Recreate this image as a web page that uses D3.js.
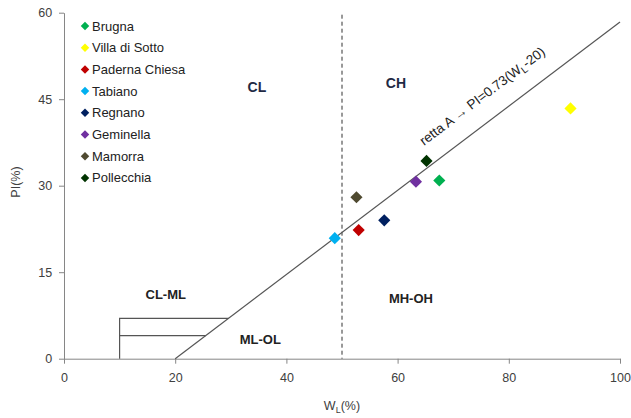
<!DOCTYPE html>
<html><head><meta charset="utf-8">
<script src="https://cdn.jsdelivr.net/npm/d3@7"></script>
<style>body{margin:0;background:#fff}svg{display:block;font-family:"Liberation Sans",Arial,sans-serif}</style>
</head><body><svg id="c" width="631" height="418"></svg>
<script>
const sites = ["Brugna","Villa di Sotto","Paderna Chiesa","Tabiano","Regnano","Geminella","Mamorra","Pollecchia"];
const wl = [67.5, 91.1, 53.0, 48.7, 57.6, 63.3, 52.6, 65.2];
const pi = [30.9, 43.4, 22.3, 20.9, 24.0, 30.7, 28.0, 34.3];
const colors = ["#00B050","#FFFF00","#C00000","#00B0F0","#002060","#7030A0","#4F4A30","#003300"];
const xTicks = [0,20,40,60,80,100];
const yTicks = [0,15,30,45,60];
const lineA = [[20,0],[100,58.4]];
const clmlBox = [[[10,0],[10,7],[29.6,7]],[[10,4],[25.5,4]]];
const zones = [["CL",34.7,46.3],["CH",59.7,46.9],["CL-ML",18.3,10.3],["ML-OL",35.3,2.5],["MH-OH",62.4,9.7]];

const svg = d3.select("#c");
const x = d3.scaleLinear().domain([0,100]).range([64,620]);
const y = d3.scaleLinear().domain([0,60]).range([358.7,12.7]);
const axisColor = "#868686";

const gx = svg.append("g").attr("transform",`translate(0,${y(0)})`).call(d3.axisBottom(x).tickValues(xTicks).tickSize(5).tickSizeOuter(0));
const gy = svg.append("g").attr("transform",`translate(${x(0)},0)`).call(d3.axisLeft(y).tickValues(yTicks).tickSize(5).tickSizeOuter(0));
[gx,gy].forEach(g=>{g.select(".domain").attr("stroke",axisColor);g.selectAll(".tick line").attr("stroke",axisColor);
 g.selectAll(".tick text").attr("fill","#404040").style("font-size","12.5px").style("font-family","Liberation Sans, Arial, sans-serif");});
gx.selectAll(".tick text").attr("dy","1.25em");
gy.selectAll(".tick text").attr("dx","-0.3em");

// dashed vertical
svg.append("line").attr("x1",x(50)).attr("x2",x(50)).attr("y1",y(60)+2).attr("y2",y(0)).attr("stroke","#333").attr("stroke-dasharray","4,3").attr("stroke-width",1);
// line A
svg.append("path").attr("d",d3.line().x(d=>x(d[0])).y(d=>y(d[1]))(lineA)).attr("stroke","#555").attr("fill","none").attr("stroke-width",1.2);
clmlBox.forEach(p=>svg.append("path").attr("d",d3.line().x(d=>x(d[0])).y(d=>y(d[1]))(p)).attr("stroke","#555").attr("fill","none").attr("stroke-width",1.2));

// zone labels
zones.forEach((z,i)=>svg.append("text").attr("x",x(z[1])).attr("y",y(z[2])).attr("text-anchor","middle").attr("font-weight","bold")
  .attr("font-size", i<2 ? "14px" : "13px").attr("fill", i<2 ? "#1F2A44" : "#222").text(z[0]));

// line label
const ang = Math.atan2(y(0)-y(58.4), x(100)-x(20))*180/Math.PI;
const lt = svg.append("text").attr("transform",`translate(424,146) rotate(${-ang})`).attr("font-size","13.5px").attr("fill","#222");
lt.append("tspan").text("retta A \u2192 PI=0.73(W");
lt.append("tspan").attr("font-size","10px").attr("dy","3").text("L");
lt.append("tspan").attr("dy","-3").text("-20)");

// points
sites.forEach((s,i)=>{
  svg.append("rect").attr("x",-4.3).attr("y",-4.3).attr("width",8.6).attr("height",8.6)
    .attr("transform",`translate(${x(wl[i])},${y(pi[i])}) rotate(45)`).attr("fill",colors[i]);
});

// legend
sites.forEach((s,i)=>{
  const ly = 26 + i*21.7;
  svg.append("rect").attr("x",-3).attr("y",-3).attr("width",6).attr("height",6)
    .attr("transform",`translate(85,${ly}) rotate(45)`).attr("fill",colors[i]);
  svg.append("text").attr("x",92).attr("y",ly+4.5).attr("font-size","13px").attr("fill","#222").text(s);
});

// axis titles
svg.append("text").attr("transform",`translate(20,182) rotate(-90)`).attr("text-anchor","middle").attr("font-size","12.5px").attr("fill","#404040").text("PI(%)");
const xt = svg.append("text").attr("x",x(50)).attr("y",410).attr("text-anchor","middle").attr("font-size","12.5px").attr("fill","#404040");
xt.append("tspan").text("W");
xt.append("tspan").attr("font-size","9px").attr("dy","3").text("L");
xt.append("tspan").attr("dy","-3").text("(%)");
</script></body></html>
